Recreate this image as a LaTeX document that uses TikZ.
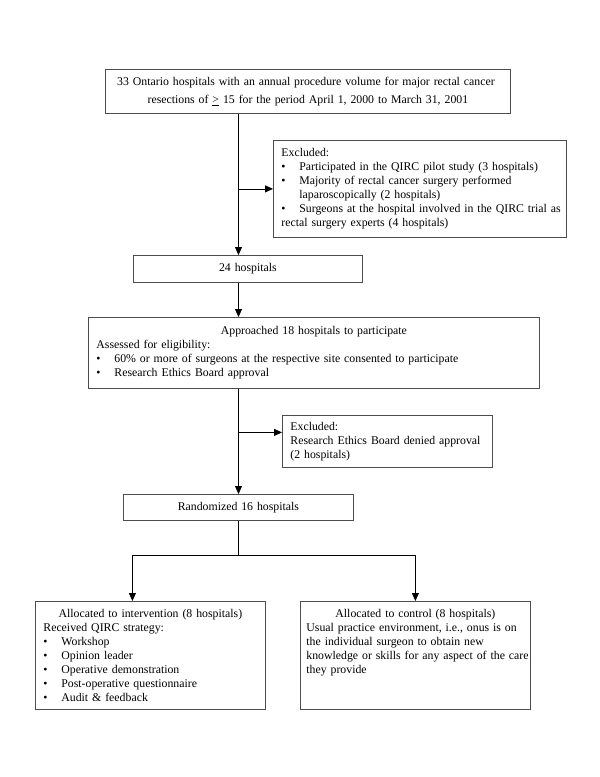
\documentclass[tikz,border=0pt]{standalone}
\usepackage{fontspec}
\setmainfont{Liberation Serif}
\usetikzlibrary{arrows.meta,positioning}
\setlength{\parindent}{0pt}
\newcommand{\bul}[1]{\par\hangindent=18pt\hangafter=1\makebox[18pt][l]{\textbullet}#1}

\begin{document}
\begin{tikzpicture}[x=1pt,y=-1pt,>={Triangle[length=8pt,width=7pt]},
	font=\fontsize{11.8}{14}\selectfont,
	box/.style={draw=black!70,line width=0.8pt,anchor=north west,inner xsep=8pt,inner ysep=0pt,align=left},
	flow/.style={->,line width=0.8pt}]
	\useasboundingbox (0,0) rectangle (600,777);
	\coordinate (spine) at (238.5,0);
	\coordinate (fork) at (238.5,555.5);

	\node[box,text width=389pt,minimum height=44pt] (pool) at (105,69)
		{{\centering\baselineskip=18pt 33 Ontario hospitals with an annual procedure volume for major rectal cancer\newline resections of \underline{>} 15 for the period April 1, 2000 to March 31, 2001\par}};
	\node[box,text width=277pt,minimum height=97pt] (excl1) at (273,140)
		{Excluded:\bul{Participated in the QIRC pilot study (3 hospitals)}\bul{\mbox{Majority of rectal cancer surgery performed}\newline \mbox{laparoscopically (2 hospitals)}}\bul{\mbox{Surgeons at the hospital involved in the QIRC trial as}\newline \mbox{rectal surgery experts (4 hospitals)}}};
	\node[box,align=center,text width=213pt,minimum height=27pt] (h24) at (133,255) {24 hospitals};
	\node[box,text width=435pt,minimum height=71pt] (appr) at (88,317)
		{{\centering Approached 18 hospitals to participate\par}Assessed for eligibility:\bul{60\% or more of surgeons at the respective site consented to participate}\bul{Research Ethics Board approval}};
	\node[box,text width=194pt,minimum height=52pt] (excl2) at (282,415)
		{Excluded:\par \mbox{Research Ethics Board denied approval}\newline (2 hospitals)};
	\node[box,align=center,text width=214pt,minimum height=26pt] (rand) at (123,494) {Randomized 16 hospitals};
	\node[box,text width=214pt,minimum height=108pt] (alloc) at (35,601)
		{{\centering Allocated to intervention (8 hospitals)\par}Received QIRC strategy:\bul{Workshop}\bul{Opinion leader}\bul{Operative demonstration}\bul{Post-operative questionnaire}\bul{Audit \& feedback}};
	\node[box,inner xsep=6pt,text width=218pt,minimum height=108pt] (ctrl) at (300,601)
		{{\centering Allocated to control (8 hospitals)\par}\mbox{Usual practice environment, i.e., onus is on}\par\mbox{the individual surgeon to obtain new}\par\mbox{knowledge or skills for any aspect of the care}\par they provide\par\mbox{}\par\mbox{}};

	% main column
	\draw[flow] (pool.south -| spine) -- (h24.north -| spine);
	\draw[flow] (spine |- excl1.west) -- (excl1.west);
	\draw[flow] (h24.south -| spine) -- (appr.north -| spine);
	\draw[flow] (appr.south -| spine) -- (rand.north -| spine);
	\draw[flow] ([yshift=9pt]excl2.west -| spine) -- ([yshift=9pt]excl2.west);
	% split into the two arms
	\draw[line width=0.8pt] (rand.south -| spine) -- (fork);
	\draw[flow] (fork) -| ([xshift=-18pt]alloc.north);
	\draw[flow] (fork) -| (ctrl.north);
\end{tikzpicture}
\end{document}
